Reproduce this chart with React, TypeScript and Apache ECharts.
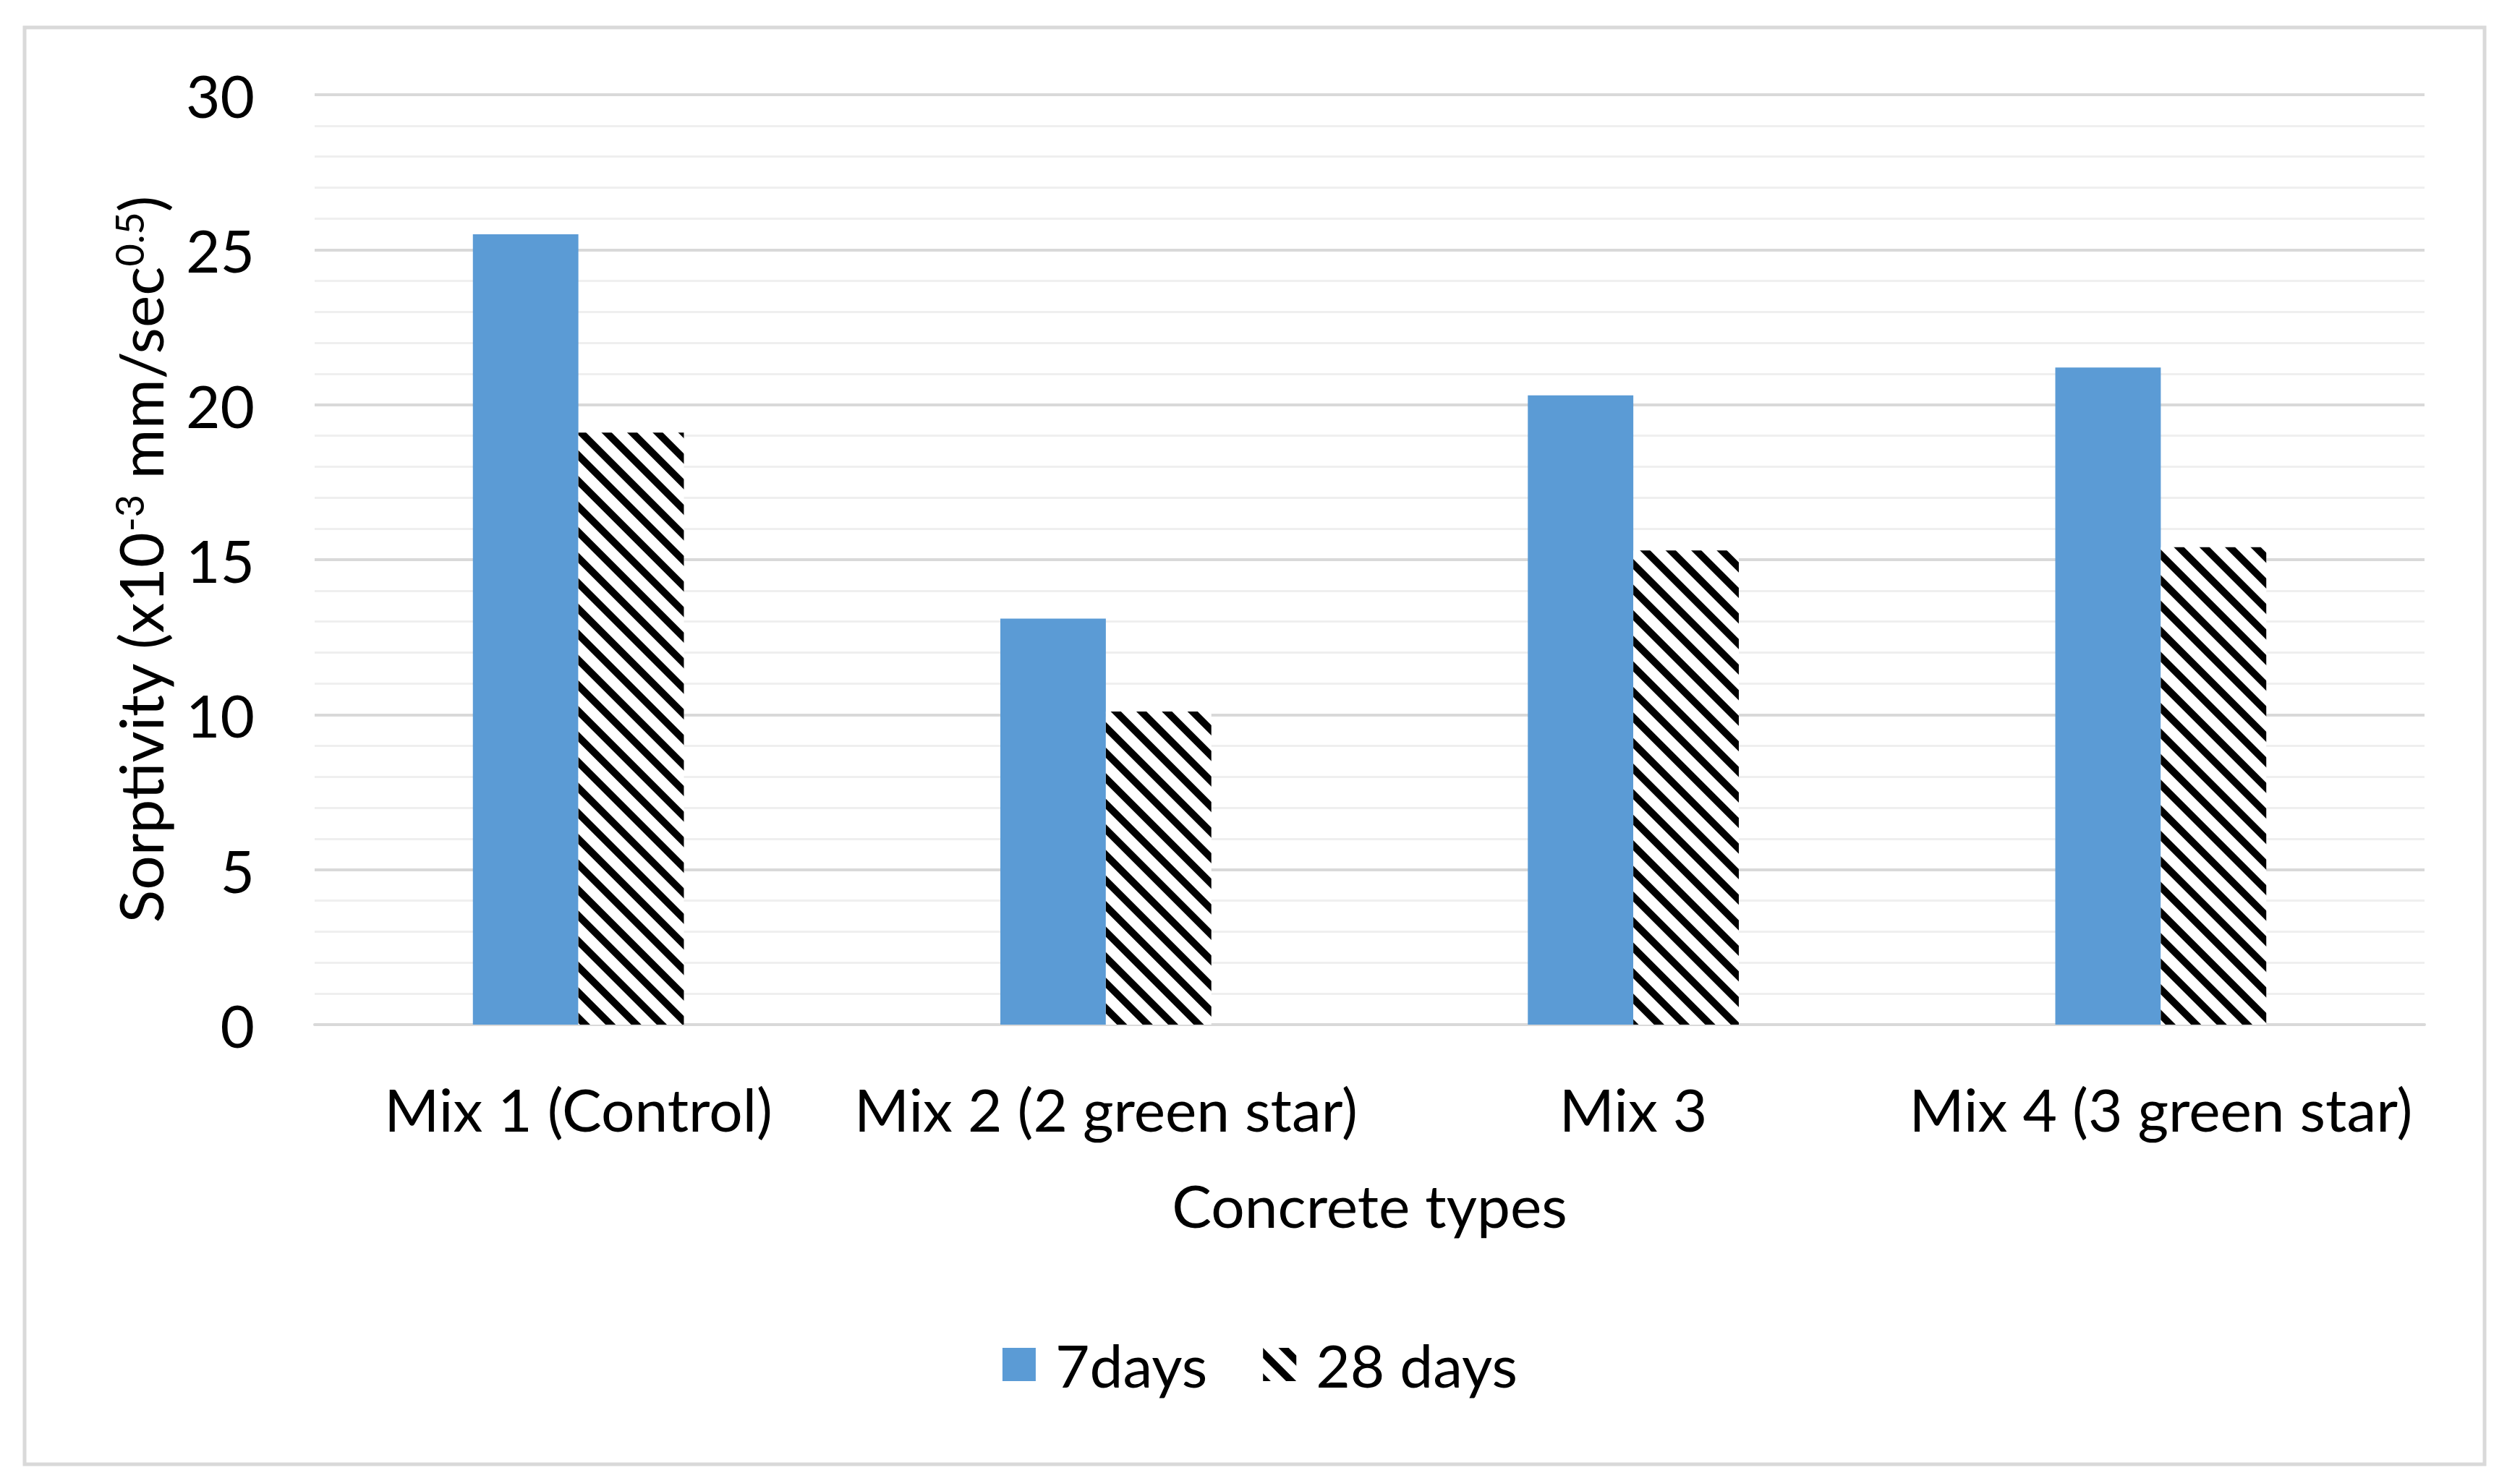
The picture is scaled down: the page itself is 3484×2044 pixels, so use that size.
import React, { useEffect, useRef } from "react";
import * as echarts from "echarts";

const categories = ["Mix 1 (Control)", "Mix 2 (2 green star)", "Mix 3", "Mix 4 (3 green star)"];
const days7 = [25.5, 13.1, 20.3, 21.2];
const days28 = [19.1, 10.1, 15.3, 15.4];
const seriesNames = ["7days", "28 days"];
const yTicks = { min: 0, max: 30, interval: 5 };

export default function App() {
  const ref = useRef<HTMLDivElement>(null);
  useEffect(() => {
    document.body.style.margin = "0";
    const chart = echarts.init(ref.current!, null, { renderer: "svg" });
    const font = "Lato";
    const fs = 82;
    chart.setOption({
      animation: false,
      backgroundColor: "#ffffff",
      textStyle: { fontFamily: font, color: "#000" },
      graphic: [
        {
          type: "rect",
          z: -10,
          shape: { x: 34, y: 38, width: 3401, height: 1987 },
          style: { fill: "none", stroke: "#d9d9d9", lineWidth: 5 },
        },
      ],
      grid: { left: 435, right: 132, top: 131, bottom: 627, containLabel: false },
      legend: {
        data: seriesNames,
        left: "center",
        top: 1841,
        icon: "rect",
        itemWidth: 46,
        itemHeight: 46,
        itemGap: 77,
        textStyle: { fontFamily: font, fontSize: fs, color: "#000", padding: [0, 0, 0, 22] },
      },
      xAxis: {
        type: "category",
        data: categories,
        axisTick: { show: false },
        axisLine: { lineStyle: { color: "#d9d9d9", width: 4 } },
        axisLabel: { fontFamily: font, fontSize: fs, color: "#000", margin: 75, interval: 0 },
        name: "Concrete types",
        nameLocation: "middle",
        nameGap: 208,
        nameTextStyle: { fontFamily: font, fontSize: fs, color: "#000" },
      },
      yAxis: {
        type: "value",
        min: yTicks.min,
        max: yTicks.max,
        interval: yTicks.interval,
        axisLine: { show: false },
        axisTick: { show: false },
        axisLabel: { fontFamily: font, fontSize: fs, color: "#000", margin: 83 },
        splitLine: { show: true, lineStyle: { color: "#d9d9d9", width: 4 } },
        minorTick: { show: false, splitNumber: 5 },
        minorSplitLine: { show: true, lineStyle: { color: "#efefef", width: 3 } },
        name: "{a|Sorptivity (x10}{s|-3}{a| mm/sec}{s|0.5}{a|)}",
        nameLocation: "middle",
        nameGap: 200,
        nameTextStyle: {
          fontFamily: font,
          color: "#000",
          rich: {
            a: { fontFamily: font, fontSize: 84, color: "#000", verticalAlign: "bottom" },
            s: { fontFamily: font, fontSize: 54, lineHeight: 40, color: "#000", verticalAlign: "top" },
          },
        },
      },
      series: [
        {
          name: seriesNames[0],
          type: "bar",
          data: days7,
          barWidth: "20%",
          barGap: "0%",
          itemStyle: { color: "#5B9BD5" },
        },
        {
          name: seriesNames[1],
          type: "bar",
          data: days28,
          barWidth: "20%",
          barGap: "0%",
          itemStyle: {
            color: "#ffffff",
            decal: {
              symbol: "rect",
              symbolSize: 1,
              color: "#000000",
              backgroundColor: "#ffffff",
              dashArrayX: [1, 0],
              dashArrayY: [10, 15],
              rotation: Math.PI / 4,
            },
          },
        },
      ],
    });
    return () => chart.dispose();
  }, []);
  return <div ref={ref} style={{ width: "3484px", height: "2044px" }} />;
}
